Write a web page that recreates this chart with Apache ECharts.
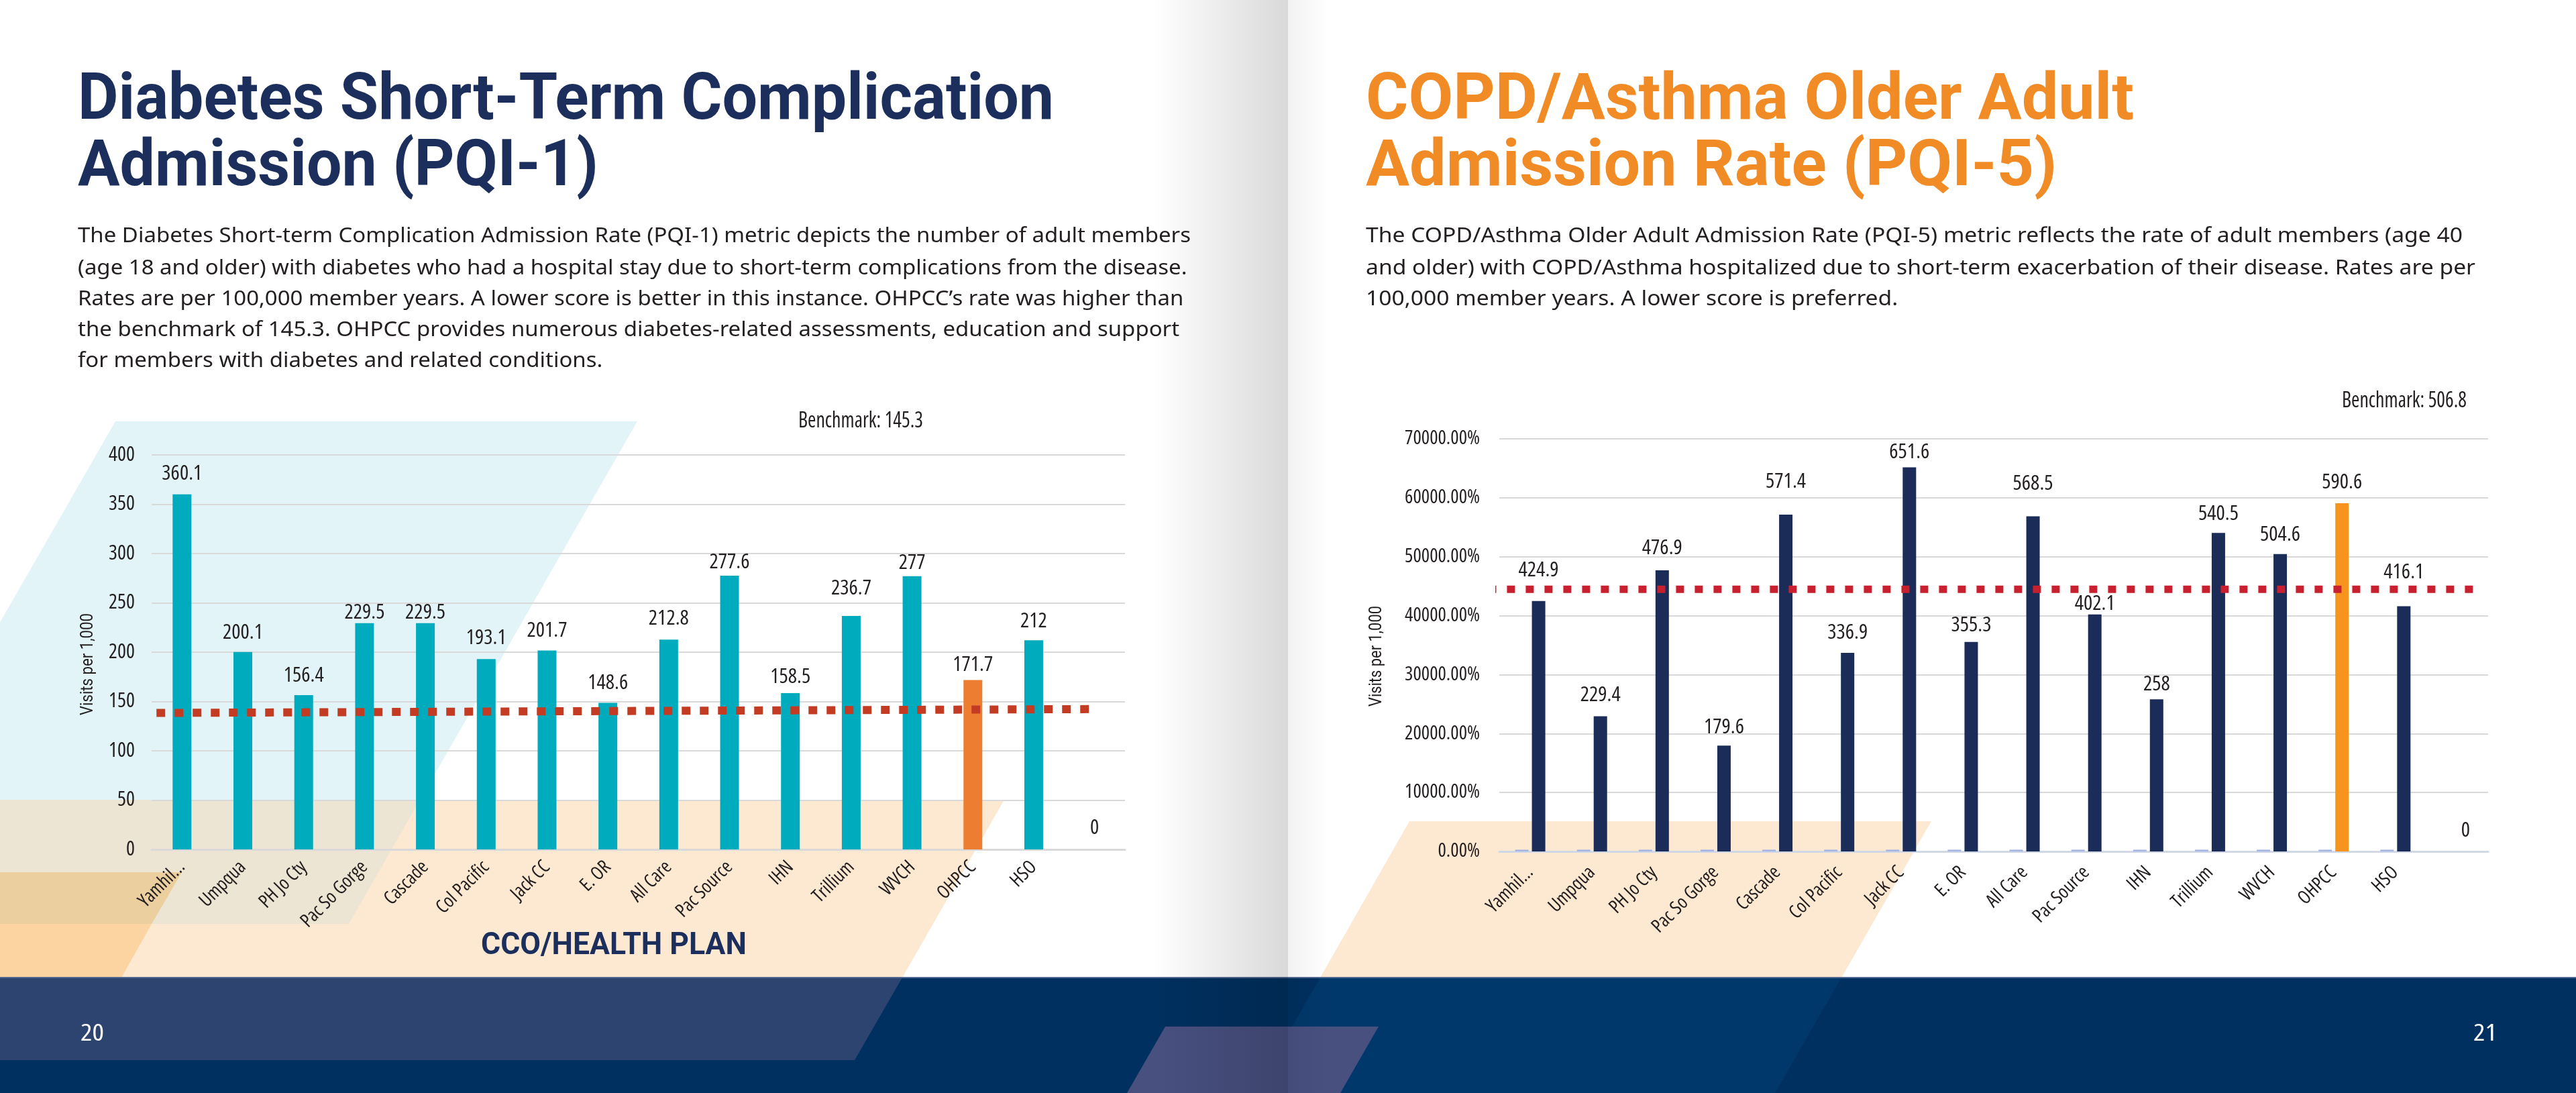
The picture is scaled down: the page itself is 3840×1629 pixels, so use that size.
<!DOCTYPE html>
<html>
<head>
<meta charset="utf-8">
<script src="https://cdn.jsdelivr.net/npm/echarts@6/dist/echarts.min.js"></script>
<style>
html, body { margin: 0; padding: 0; background: #fff; }
#page { width: 3840px; height: 1629px; }
</style>
</head>
<body>
<div id="page"></div>
<script>
// data
const categories = ["Yamhil...", "Umpqua", "PH Jo Cty", "Pac So Gorge", "Cascade", "Col Pacific", "Jack CC", "E. OR", "All Care", "Pac Source", "IHN", "Trillium", "WVCH", "OHPCC", "HSO", ""];
const pqi1Values = [360.1, 200.1, 156.4, 229.5, 229.5, 193.1, 201.7, 148.6, 212.8, 277.6, 158.5, 236.7, 277, 171.7, 212, 0];
const pqi5Values = [424.9, 229.4, 476.9, 179.6, 571.4, 336.9, 651.6, 355.3, 568.5, 402.1, 258, 540.5, 504.6, 590.6, 416.1, 0];
// tiny companion series on the PQI-5 chart (barely visible at the baseline)
const pqi5Small = [3, 3, 3, 3, 3, 3, 3, 3, 3, 3, 3, 3, 3, 3, 3, 0];
// dotted benchmark lines as drawn: [category position, value]
const pqi1BenchLine = [[0.08, 138.4], [15.48, 142.3]];
const pqi5BenchLine = [[-0.18, 444.8], [15.76, 444.8]];
const pqi1Benchmark = "145.3";
const pqi5Benchmark = "506.8";
const highlight = "OHPCC";

// label gaps above the bars (px), hand placed in the original layout
const pqi1LabelGap = [19, 17, 17, 3, 3, 20, 18, 18, 20, 8, 12, 29, 8, 11, 17, 20];
const pqi5LabelGap = [34, 20, 21, 16, 37, 18, 11, 13, 37, 4, 11, 17, 17, 20, 39, 19];

const NAVY = "#1c2f5c";
const INK = "#231f20";

const mctx = document.createElement("canvas").getContext("2d");
function textWidth(text, font) {
	mctx.font = font;
	return mctx.measureText(text).width;
}
// pick the narrowest installed face for the DIN-like chart lettering
const faceCandidates = [
	["extra-condensed", '"Noto Sans"'],
	["condensed", '"Noto Sans"'],
	["condensed", '"Open Sans"'],
	["normal", '"Liberation Sans Narrow"'],
	["normal", '"DejaVu Sans Condensed"'],
	["condensed", '"DejaVu Sans"'],
	["normal", "Roboto"],
];
const sample = "Umpqua 360.1 Benchmark";
let best = faceCandidates[faceCandidates.length - 1];
let bestW = Infinity;
faceCandidates.forEach((c) => {
	const w = textWidth(sample, c[0] + " 100px " + c[1] + ", monospace");
	if (w < bestW && Math.abs(w - textWidth(sample, "100px monospace")) > 0.5) {
		bestW = w;
		best = c;
	}
});
const STRETCH = best[0];
const NARROW = best[1] + ", Roboto, sans-serif";
function sizeFor(text, target, minSize, maxSize) {
	const s = (target / textWidth(text, STRETCH + " 100px " + NARROW)) * 100;
	return Math.max(minSize, Math.min(maxSize, s));
}
const valueSize = sizeFor("360.1", 60, 26, 33);
const yLabelSize = sizeFor("400", 39, 26, 33);
const y5LabelSize = sizeFor("70000.00%", 112, 24, 33);
const xLabelSize = sizeFor("Umpqua", 84, 24, 30);

const chart = echarts.init(document.getElementById("page"), null, { renderer: "canvas", width: 3840, height: 1629 });

function fit(text, font, target) {
	return target / textWidth(text, font);
}
function txt(text, x, y, font, fill, opts) {
	opts = opts || {};
	return {
		type: "text",
		x: x,
		y: y,
		z: 20,
		rotation: opts.rotation || 0,
		scaleX: opts.scaleX || 1,
		silent: true,
		style: { text: text, font: font, fill: fill, align: opts.align || "left", verticalAlign: "middle" },
	};
}
function poly(points, fill, z) {
	return { type: "polygon", z: z == null ? -10 : z, silent: true, shape: { points: points }, style: { fill: fill } };
}

// titles and paragraphs
const titleFont = "bold 97px Roboto";
const leftTitle = ["Diabetes Short-Term Complication", "Admission (PQI-1)"];
const rightTitle = ["COPD/Asthma Older Adult", "Admission Rate (PQI-5)"];
const leftBody = [
	"The Diabetes Short-term Complication Admission Rate (PQI-1) metric depicts the number of adult members",
	"(age 18 and older) with diabetes who had a hospital stay due to short-term complications from the disease.",
	"Rates are per 100,000 member years. A lower score is better in this instance. OHPCC\u2019s rate was higher than",
	"the benchmark of 145.3. OHPCC provides numerous diabetes-related assessments, education and support",
	"for members with diabetes and related conditions.",
];
const rightBody = [
	"The COPD/Asthma Older Adult Admission Rate (PQI-5) metric reflects the rate of adult members (age 40",
	"and older) with COPD/Asthma hospitalized due to short-term exacerbation of their disease. Rates are per",
	"100,000 member years. A lower score is preferred.",
];
const bodyFont = '30px "Noto Sans"';
const titleY = [153, 252];
const bodyY = [352.5, 400.5, 446.5, 492.5, 538.5];

const graphics = [];
// page background shapes, left page
graphics.push(poly([[172, 628], [950, 628], [520, 1377], [-258, 1377]], "#e2f4f7"));
graphics.push(poly([[0, 1192], [1497, 1192], [1345, 1457], [0, 1457]], "#fde9d2"));
graphics.push(poly([[0, 1192], [626, 1192], [520, 1377], [0, 1377]], "#ece5d3", -9));
graphics.push(poly([[0, 1300], [271, 1300], [226, 1377], [0, 1377]], "#eccf9f", -8));
graphics.push(poly([[0, 1377], [226, 1377], [181, 1457], [0, 1457]], "#fcd4a1", -8));
// right page
graphics.push(poly([[2101, 1224], [2879, 1224], [2745, 1457], [1968, 1457]], "#fde9d2"));
// footer
graphics.push({ type: "rect", z: -7, silent: true, shape: { x: 0, y: 1457, width: 3840, height: 172 }, style: { fill: "#00305f" } });
graphics.push(poly([[0, 1457], [1345, 1457], [1274, 1580], [0, 1580]], "#2d4470", -6));
graphics.push(poly([[1968, 1457], [2745, 1457], [2646, 1629], [1869, 1629]], "#01386b", -6));
graphics.push(poly([[1737, 1530], [2055, 1530], [1998, 1629], [1680, 1629]], "#485080", -5));
graphics.push({ type: "rect", z: -4, silent: true, shape: { x: 0, y: 1456, width: 3840, height: 2 }, style: { fill: "#4f6790" } });
// page fold shading
graphics.push({
	type: "rect", z: -3, silent: true,
	shape: { x: 1720, y: 0, width: 200, height: 1629 },
	style: { fill: new echarts.graphic.LinearGradient(0, 0, 1, 0, [{ offset: 0, color: "rgba(0,0,0,0)" }, { offset: 1, color: "rgba(0,0,0,0.15)" }]) },
});
graphics.push({
	type: "rect", z: -3, silent: true,
	shape: { x: 1920, y: 0, width: 60, height: 1629 },
	style: { fill: new echarts.graphic.LinearGradient(0, 0, 1, 0, [{ offset: 0, color: "rgba(0,0,0,0.05)" }, { offset: 1, color: "rgba(0,0,0,0)" }]) },
});

// title text
const lts = fit(leftTitle[0], titleFont, 1455);
leftTitle.forEach((t, i) => graphics.push(txt(t, 116, titleY[i], titleFont, NAVY, { scaleX: lts })));
const rts = fit(rightTitle[0], titleFont, 1145);
rightTitle.forEach((t, i) => graphics.push(txt(t, 2036, titleY[i], titleFont, "#f08b25", { scaleX: rts })));
const lbs = fit(leftBody[0], bodyFont, 1659);
leftBody.forEach((t, i) => graphics.push(txt(t, 116, bodyY[i], bodyFont, INK, { scaleX: lbs })));
const rbs = fit(rightBody[0], bodyFont, 1635);
rightBody.forEach((t, i) => graphics.push(txt(t, 2036, bodyY[i], bodyFont, INK, { scaleX: rbs })));

// chart annotations
const benchFont = STRETCH + " 33px " + NARROW;
const b1 = "Benchmark: " + pqi1Benchmark;
const b2 = "Benchmark: " + pqi5Benchmark;
graphics.push(txt(b1, 1190, 628, benchFont, INK, { scaleX: fit(b1, benchFont, 186) }));
graphics.push(txt(b2, 3491, 598, benchFont, INK, { scaleX: fit(b2, benchFont, 186) }));
const nameFont = "25px Roboto";
const yName = "Visits per 1,000";
graphics.push(txt(yName, 132, 990, nameFont, INK, { align: "center", rotation: Math.PI / 2, scaleX: fit(yName, nameFont, 152) }));
graphics.push(txt(yName, 2053, 978, nameFont, INK, { align: "center", rotation: Math.PI / 2, scaleX: fit(yName, nameFont, 150) }));
const xNameFont = "bold 47px Roboto";
graphics.push(txt("CCO/HEALTH PLAN", 915, 1410, xNameFont, NAVY, { align: "center", scaleX: fit("CCO/HEALTH PLAN", xNameFont, 396) }));
const pageFont = STRETCH + " 34px " + NARROW;
graphics.push(txt("20", 120, 1541, pageFont, "#ffffff", { scaleX: fit("20", pageFont, 35) }));
graphics.push(txt("21", 3722, 1541, pageFont, "#ffffff", { align: "right", scaleX: fit("21", pageFont, 35) }));

const labelFont = { fontFamily: NARROW, fontWeight: STRETCH, color: INK };

const option = {
	animation: false,
	backgroundColor: "#ffffff",
	graphic: { elements: graphics },
	grid: [
		{ left: 226, top: 678, width: 1451, height: 588 },
		{ left: 2235, top: 654, width: 1474, height: 615 },
	],
	xAxis: [
		{
			type: "category", gridIndex: 0, data: categories,
			axisLine: { lineStyle: { color: "#d9d9d9", width: 3 } },
			axisTick: { length: 6, lineStyle: { color: "#d9d9d9", width: 2 } },
			axisLabel: Object.assign({ interval: 0, rotate: 45, margin: 22, fontSize: xLabelSize }, labelFont),
		},
		{
			type: "category", gridIndex: 1, data: categories,
			axisLine: { lineStyle: { color: "#d0d7e5", width: 3 } },
			axisTick: { length: 6, lineStyle: { color: "#d0d7e5", width: 2 } },
			axisLabel: Object.assign({ interval: 0, rotate: 45, margin: 27, fontSize: xLabelSize }, labelFont),
		},
		// hidden value axes used to place the benchmark lines across the category bands
		{ type: "value", gridIndex: 0, min: 0, max: 16, show: false },
		{ type: "value", gridIndex: 1, min: 0, max: 16, show: false },
	],
	yAxis: [
		{
			type: "value", gridIndex: 0, min: 0, max: 400, interval: 50,
			axisLine: { show: false }, axisTick: { show: false },
			axisLabel: Object.assign({ margin: 25, fontSize: yLabelSize }, labelFont),
			splitLine: { lineStyle: { color: "#d9d9d9", width: 2 } },
		},
		{
			type: "value", gridIndex: 1, min: 0, max: 700, interval: 100,
			axisLine: { show: false }, axisTick: { show: false },
			axisLabel: Object.assign({ margin: 29, fontSize: y5LabelSize, formatter: (v) => (v * 100).toFixed(2) + "%" }, labelFont),
			splitLine: { lineStyle: { color: "#d9d9d9", width: 2 } },
		},
	],
	series: [
		{
			name: "PQI-1",
			type: "bar", xAxisIndex: 0, yAxisIndex: 0, barWidth: 28,
			data: pqi1Values.map((v, i) => ({
				value: v,
				itemStyle: { color: categories[i] === highlight ? "#ed7d31" : "#00abbd" },
				label: { distance: Math.max(0, pqi1LabelGap[i] - 4) },
			})),
			label: Object.assign({ show: true, position: "top", fontSize: valueSize }, labelFont),
		},
		{
			name: "PQI-1 benchmark",
			type: "line", xAxisIndex: 2, yAxisIndex: 0, data: pqi1BenchLine,
			symbol: "none", clip: false, silent: true, z: 5,
			lineStyle: { color: "#c23b22", width: 12, type: [13, 14], cap: "butt" },
		},
		{
			name: "PQI-5 prior",
			type: "bar", xAxisIndex: 1, yAxisIndex: 1, barWidth: 20, barGap: "25%",
			data: pqi5Small,
			itemStyle: { color: "#a6b6e2" },
		},
		{
			name: "PQI-5",
			type: "bar", xAxisIndex: 1, yAxisIndex: 1, barWidth: 20, barGap: "25%",
			data: pqi5Values.map((v, i) => ({
				value: v,
				itemStyle: { color: categories[i] === highlight ? "#f7941d" : "#1b2c58" },
				label: { distance: Math.max(0, pqi5LabelGap[i] - 4) },
			})),
			label: Object.assign({ show: true, position: "top", fontSize: valueSize }, labelFont),
		},
		{
			name: "PQI-5 benchmark",
			type: "line", xAxisIndex: 3, yAxisIndex: 1, data: pqi5BenchLine,
			symbol: "none", clip: false, silent: true, z: 5,
			lineStyle: { color: "#c8202f", width: 11, type: [12, 16], cap: "butt" },
		},
	],
};

chart.setOption(option);
</script>
</body>
</html>
